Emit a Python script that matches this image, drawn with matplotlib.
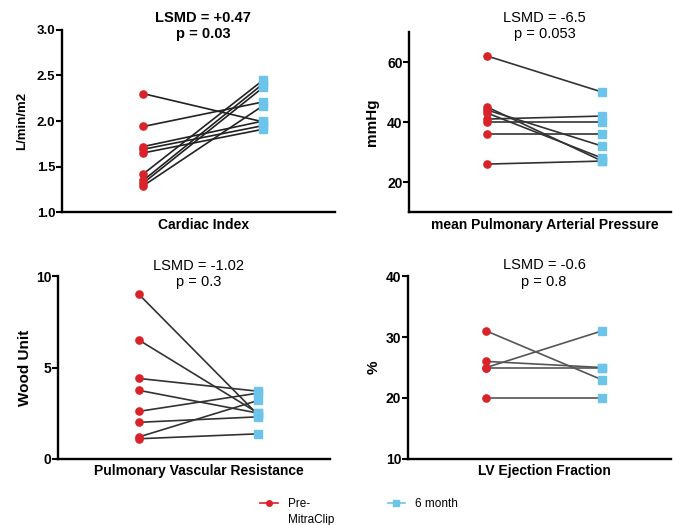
import numpy as np
import matplotlib
matplotlib.use('Agg')
import matplotlib.pyplot as plt
from matplotlib.lines import Line2D
from matplotlib import transforms

plt.rcParams['font.family'] = ['Liberation Sans', 'DejaVu Sans']

# data (one entry per patient: pre -> 6 month)
ci_pre = [2.30, 1.94, 1.72, 1.69, 1.65, 1.42, 1.35, 1.32, 1.29]
ci_post = [1.99, 2.21, 2.00, 1.95, 1.91, 2.45, 2.41, 2.37, 2.17]

mpap_pre = [62, 45, 44, 43, 41, 40, 36, 26]
mpap_post = [50, 27, 32, 28, 42, 40, 36, 27]

pvr_pre = [9.0, 6.5, 4.4, 3.75, 2.6, 2.0, 1.2, 1.1]
pvr_post = [2.4, 2.5, 3.7, 2.5, 3.6, 2.3, 3.2, 1.37]

lvef_pre = [31, 25, 26, 25, 20]
lvef_post = [23, 31, 25, 25, 20]

panels = [
    dict(pre=ci_pre, post=ci_post, name='Cardiac Index', unit='L/min/m2', ysize=9.5, lpad=6,
         ylim=(1.0, 3.0), ticks=[1.0, 1.5, 2.0, 2.5, 3.0], fmt='{:.1f}', tsize=9.5,
         title='LSMD = +0.47\np = 0.03', bold=True, lc='#222222',
         pos=[0.092, 0.596, 0.406, 0.347], ty=1.02),
    dict(pre=mpap_pre, post=mpap_post, name='mean Pulmonary Arterial Pressure', unit='mmHg', ysize=11, lpad=6,
         ylim=(10, 70), ticks=[20, 40, 60], fmt='{:d}', tsize=10,
         title='LSMD = -6.5\np = 0.053', bold=False, lc='#333333',
         pos=[0.608, 0.596, 0.389, 0.343], ty=1.035),
    dict(pre=pvr_pre, post=pvr_post, name='Pulmonary Vascular Resistance', unit='Wood Unit', ysize=11, lpad=3,
         ylim=(0, 10), ticks=[0, 5, 10], fmt='{:d}', tsize=10,
         title='LSMD = -1.02\np = 0.3', bold=False, lc='#333333',
         pos=[0.086, 0.126, 0.404, 0.348], ty=1.01),
    dict(pre=lvef_pre, post=lvef_post, name='LV Ejection Fraction', unit='%', ysize=11, lpad=4,
         ylim=(10, 40), ticks=[10, 20, 30, 40], fmt='{:d}', tsize=10,
         title='LSMD = -0.6\np = 0.8', bold=False, lc='#555555',
         pos=[0.606, 0.126, 0.391, 0.348], ty=1.015),
]

red = '#d9232a'
blue = '#6cc4ea'

fig = plt.figure(figsize=(6.73, 5.25), dpi=100)

for p in panels:
    ax = fig.add_axes(p['pos'])
    for a, b in zip(p['pre'], p['post']):
        ax.plot([0, 1], [a, b], color=p['lc'], lw=1.2, zorder=1)
    ax.plot(np.zeros(len(p['pre'])), p['pre'], 'o', color=red, ms=5.2, mec=red, zorder=3)
    ax.plot(np.ones(len(p['post'])), p['post'], 's', color=blue, ms=5.6, mec=blue, zorder=3)
    ax.set_xlim(-0.68, 1.6)
    ax.set_ylim(*p['ylim'])
    ax.set_yticks(p['ticks'])
    ax.set_yticklabels([p['fmt'].format(t) for t in p['ticks']], fontweight='bold', fontsize=p['tsize'])
    ax.set_xticks([0.5])
    ax.set_xticklabels([p['name']], fontweight='bold', fontsize=10)
    ax.tick_params(axis='x', length=0, pad=4)
    ax.tick_params(axis='y', length=4.2, width=1.5, pad=0.5)
    ax.set_ylabel(p['unit'], fontweight='bold', fontsize=p['ysize'], labelpad=p['lpad'])
    for s in ['top', 'right']:
        ax.spines[s].set_visible(False)
    for s in ['left', 'bottom']:
        ax.spines[s].set_linewidth(1.7)
    trans = transforms.blended_transform_factory(ax.transData, ax.transAxes)
    ax.text(0.5, p['ty'], p['title'], transform=trans, ha='center', va='center',
            fontsize=10.5, fontweight='bold' if p['bold'] else 'normal', linespacing=1.2)

handles = [Line2D([], [], color=red, lw=1.2, marker='o', ms=4),
           Line2D([], [], color=blue, lw=1.2, marker='s', ms=4)]
leg = fig.legend(handles, ['Pre-', '6 month'], loc='center left', bbox_to_anchor=(0.387, 0.04),
                 ncol=2, frameon=False, fontsize=8.5, handlelength=1.5, handletextpad=0.8,
                 columnspacing=6.6, borderpad=0, borderaxespad=0)
fig.canvas.draw()
bb = leg.get_texts()[0].get_window_extent()
fig.text(bb.x0, bb.y0 - 4, 'MitraClip', transform=None, ha='left', va='top', fontsize=8.5)

fig.savefig('out.png', dpi=100)
